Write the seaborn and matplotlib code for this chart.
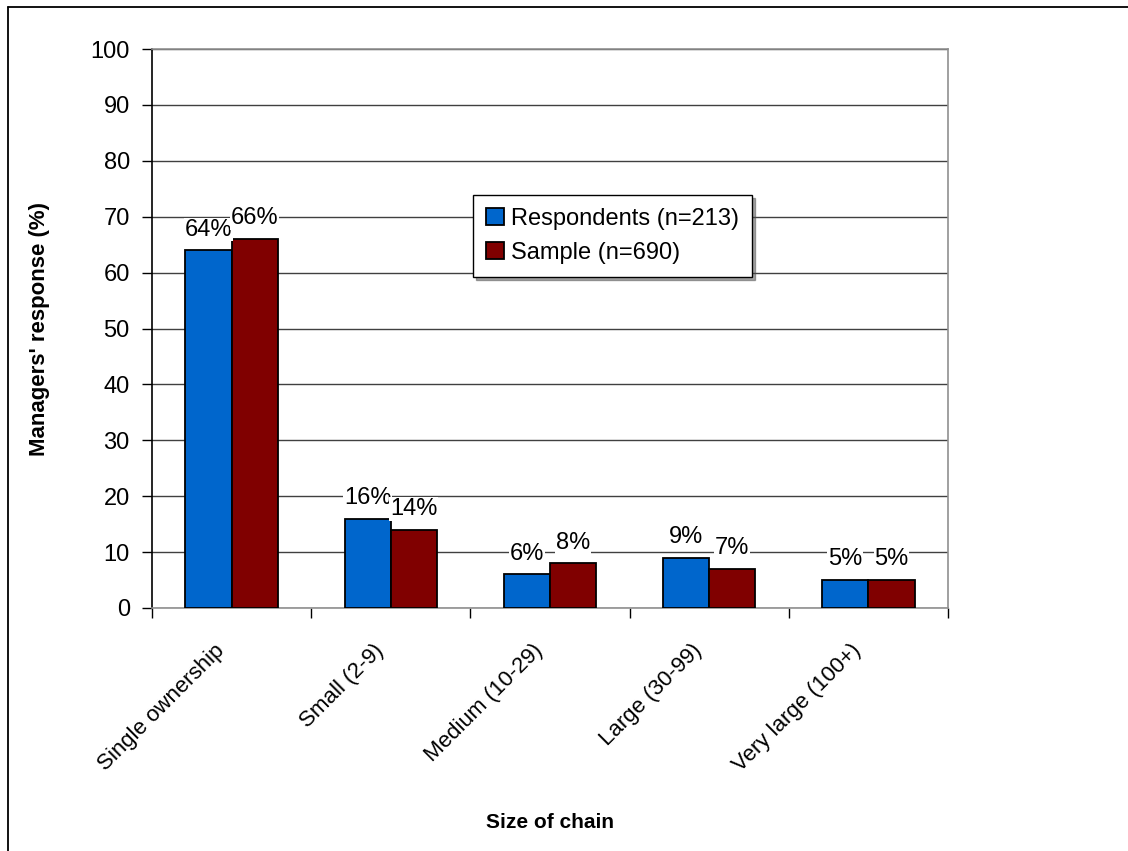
import matplotlib
matplotlib.use("Agg")
import matplotlib.pyplot as plt
from matplotlib.patches import Patch
from matplotlib.lines import Line2D
import matplotlib.transforms as mtransforms
import seaborn as sns
import pandas as pd

# Share of shops by size of chain
categories = ["Single ownership", "Small (2-9)", "Medium (10-29)", "Large (30-99)", "Very large (100+)"]
respondents = [64, 16, 6, 9, 5]
sample = [66, 14, 8, 7, 5]
series_names = ["Respondents (n=213)", "Sample (n=690)"]
y_ticks = [0, 10, 20, 30, 40, 50, 60, 70, 80, 90, 100]

colors = ["#0066CC", "#800000"]

sns.set_theme(style="white")
plt.rcParams["font.family"] = ["Liberation Sans", "DejaVu Sans"]
plt.rcParams.update({
    "text.color": "black",
    "axes.labelcolor": "black",
    "xtick.color": "black",
    "ytick.color": "black",
})

df = pd.DataFrame({
    "category": categories * 2,
    "value": respondents + sample,
    "series": [series_names[0]] * len(categories) + [series_names[1]] * len(categories),
})

fig = plt.figure(figsize=(11.28, 8.51), dpi=100)
ax = fig.add_axes([152 / 1128, 1 - 608 / 851, (948 - 152) / 1128, (608 - 49) / 851])

sns.barplot(data=df, x="category", y="value", hue="series", order=categories,
            hue_order=series_names, palette=colors, width=0.58, gap=0,
            edgecolor="black", linewidth=1.3, saturation=1, legend=False, ax=ax, zorder=3)

ax.set_xlim(-0.5, len(categories) - 0.5)
ax.set_ylim(0, 100)
ax.set_yticks(y_ticks)
ax.yaxis.grid(True, color="#404040", linewidth=1.0, zorder=0)
ax.set_axisbelow(True)

for side in ["top", "right", "bottom"]:
    ax.spines[side].set_visible(True)
    ax.spines[side].set_color("#909090")
    ax.spines[side].set_linewidth(1.2)
ax.spines["left"].set_color("black")
ax.spines["left"].set_linewidth(1.2)

ax.tick_params(axis="y", direction="out", length=7, width=1, color="black",
               labelsize=17, pad=9, left=True)
ax.set_xticks(range(len(categories)))
ax.set_xticks([i - 0.5 for i in range(len(categories) + 1)], minor=True)
ax.tick_params(axis="x", which="major", length=0, labelsize=16, pad=0)
ax.tick_params(axis="x", which="minor", direction="out", length=7, width=1,
               color="black", bottom=True)
ax.set_xticklabels(categories, rotation=45, ha="right", va="top",
                   rotation_mode="anchor")
shift = mtransforms.ScaledTranslation(-18 / 100, -32 / 100, fig.dpi_scale_trans)
for lbl in ax.get_xticklabels():
    lbl.set_transform(lbl.get_transform() + shift)

ax.set_xlabel("Size of chain", fontsize=15, fontweight="bold", labelpad=0)
ax.xaxis.set_label_coords(0.5, -(813 - 608) / (608 - 49), transform=ax.transAxes)
ax.set_ylabel("Managers' response (%)", fontsize=16, fontweight="bold")
ax.yaxis.set_label_coords(-(152 - 50) / (948 - 152), (608 - 329) / (608 - 49))

for container in ax.containers:
    texts = ax.bar_label(container, fmt="%d%%", padding=7, fontsize=17, zorder=4)
    for t in texts:
        t.set_bbox(dict(facecolor="white", edgecolor="none", pad=0.5))

handles = [Patch(facecolor=c, edgecolor="black", linewidth=1.3) for c in colors]
leg = ax.legend(handles, series_names, loc="upper left",
                bbox_to_anchor=((473 - 152) / (948 - 152), (608 - 195) / (608 - 49)),
                fontsize=17, frameon=True, fancybox=False, shadow=True,
                handlelength=0.75, handleheight=0.75, handletextpad=0.3,
                borderpad=0.55, labelspacing=0.5, borderaxespad=0)
leg.get_frame().set_edgecolor("black")
leg.get_frame().set_linewidth(1.0)

# outer frame along the left and top edges
fig.add_artist(Line2D([8 / 1128, 8 / 1128], [0, 1 - 7 / 851], color="black", linewidth=1.3))
fig.add_artist(Line2D([8 / 1128, 1], [1 - 7 / 851, 1 - 7 / 851], color="black", linewidth=1.3))

fig.savefig("out.png", dpi=100, facecolor="white")
